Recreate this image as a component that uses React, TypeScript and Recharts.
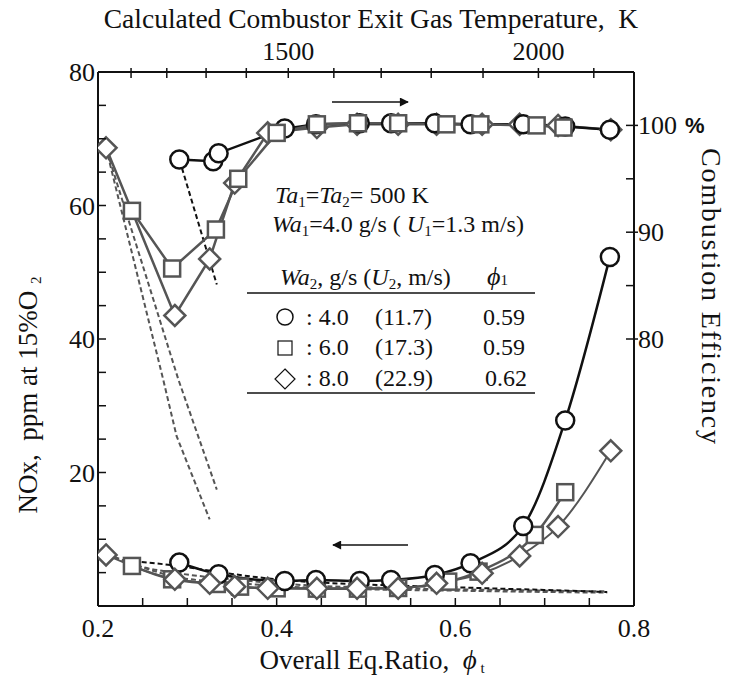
import React from 'react';
import { LineChart, Line, XAxis, YAxis } from 'recharts';

// Overall equivalence ratio vs NOx (left axis) and combustion efficiency (right axis)
const FONT = '"Liberation Serif", "Times New Roman", serif';
const INK = '#111';
const GREY = '#555';

// plot frame in page pixels (used only for tick marks / overlay text)
const L = 98;
const R = 634;
const T = 72;
const B = 606;

const phiTicks = [0.2, 0.25, 0.3, 0.35, 0.4, 0.45, 0.5, 0.55, 0.6, 0.65, 0.7, 0.75, 0.8];
const phiLabels = [0.2, 0.4, 0.6, 0.8];
const noxTicks = [0, 5, 10, 15, 20, 25, 30, 35, 40, 45, 50, 55, 60, 65, 70, 75, 80];
const noxLabels = [20, 40, 60, 80];
const effTicks = [80, 85, 90, 95, 100];
const effLabels = [80, 90, 100];
// calculated exit gas temperature ticks (K) and where they fall on the phi scale
const tempTicks = [1100, 1200, 1300, 1400, 1500, 1600, 1700, 1800, 1900, 2000, 2100];
const tempTickPhi = [0.237, 0.277, 0.321, 0.366, 0.413, 0.464, 0.517, 0.573, 0.631, 0.693, 0.755];
const tempLabels = [1500, 2000];

// combustion efficiency, %
const effCircle = [
  { x: 0.291, y: 96.8 }, { x: 0.329, y: 96.65 }, { x: 0.335, y: 97.4 }, { x: 0.409, y: 99.7 },
  { x: 0.444, y: 100.1 }, { x: 0.493, y: 100.2 }, { x: 0.528, y: 100.2 }, { x: 0.577, y: 100.2 },
  { x: 0.617, y: 100.1 }, { x: 0.676, y: 100.1 }, { x: 0.723, y: 99.9 }, { x: 0.773, y: 99.6 },
];
const effSquare = [
  { x: 0.238, y: 92.0 }, { x: 0.283, y: 86.6 }, { x: 0.332, y: 90.25 }, { x: 0.357, y: 95.0 },
  { x: 0.4, y: 99.3 }, { x: 0.445, y: 100.1 }, { x: 0.491, y: 100.2 }, { x: 0.536, y: 100.2 },
  { x: 0.59, y: 100.1 }, { x: 0.628, y: 100.1 }, { x: 0.691, y: 100.0 }, { x: 0.721, y: 99.8 },
];
const effDiamond = [
  { x: 0.209, y: 97.9 }, { x: 0.286, y: 82.2 }, { x: 0.325, y: 87.5 }, { x: 0.353, y: 94.6 },
  { x: 0.39, y: 99.3 }, { x: 0.445, y: 99.8 }, { x: 0.49, y: 100.1 }, { x: 0.536, y: 100.1 },
  { x: 0.579, y: 100.1 }, { x: 0.63, y: 100.1 }, { x: 0.672, y: 100.1 }, { x: 0.715, y: 100.0 },
  { x: 0.774, y: 99.6 },
];
// calculated efficiency (dashed)
const effCalcBlack = [{ x: 0.294, y: 96.0 }, { x: 0.333, y: 85.1 }];
const effCalcGreyA = [{ x: 0.211, y: 97.2 }, { x: 0.273, y: 76.2 }, { x: 0.288, y: 70.9 }, { x: 0.325, y: 63.1 }];
const effCalcGreyB = [{ x: 0.213, y: 96.8 }, { x: 0.29, y: 76.2 }, { x: 0.333, y: 65.9 }];

// NOx, ppm at 15% O2
const noxCircle = [
  { x: 0.291, y: 6.5 }, { x: 0.335, y: 4.75 }, { x: 0.409, y: 3.75 }, { x: 0.444, y: 3.9 },
  { x: 0.493, y: 3.75 }, { x: 0.528, y: 3.9 }, { x: 0.577, y: 4.65 }, { x: 0.617, y: 6.4 },
  { x: 0.676, y: 12.0 }, { x: 0.723, y: 27.8 }, { x: 0.773, y: 52.3 },
];
const noxSquare = [
  { x: 0.238, y: 6.0 }, { x: 0.283, y: 4.0 }, { x: 0.333, y: 3.3 }, { x: 0.359, y: 2.9 },
  { x: 0.4, y: 2.65 }, { x: 0.445, y: 2.6 }, { x: 0.491, y: 2.6 }, { x: 0.536, y: 2.7 },
  { x: 0.592, y: 3.65 }, { x: 0.626, y: 5.15 }, { x: 0.689, y: 10.65 }, { x: 0.723, y: 17.05 },
];
const noxDiamond = [
  { x: 0.209, y: 7.65 }, { x: 0.286, y: 4.0 }, { x: 0.325, y: 3.4 }, { x: 0.353, y: 2.9 },
  { x: 0.39, y: 2.65 }, { x: 0.445, y: 2.65 }, { x: 0.49, y: 2.65 }, { x: 0.536, y: 2.65 },
  { x: 0.579, y: 3.4 }, { x: 0.63, y: 4.9 }, { x: 0.672, y: 7.5 }, { x: 0.715, y: 11.9 },
  { x: 0.774, y: 23.25 },
];
// calculated NOx (dashed)
const noxCalcBlack = [
  { x: 0.24, y: 6.7 }, { x: 0.29, y: 6.0 }, { x: 0.35, y: 4.8 }, { x: 0.4, y: 4.0 }, { x: 0.45, y: 3.5 },
  { x: 0.5, y: 3.2 }, { x: 0.55, y: 3.0 }, { x: 0.6, y: 2.8 }, { x: 0.65, y: 2.6 }, { x: 0.7, y: 2.4 },
  { x: 0.77, y: 2.1 },
];
const noxCalcGreyA = [
  { x: 0.21, y: 7.8 }, { x: 0.24, y: 6.2 }, { x: 0.29, y: 4.9 }, { x: 0.35, y: 4.0 }, { x: 0.4, y: 3.4 },
  { x: 0.45, y: 3.0 }, { x: 0.5, y: 2.8 }, { x: 0.55, y: 2.6 }, { x: 0.6, y: 2.5 }, { x: 0.65, y: 2.4 },
  { x: 0.7, y: 2.3 }, { x: 0.77, y: 2.2 },
];
const noxCalcGreyB = [
  { x: 0.21, y: 7.8 }, { x: 0.29, y: 4.3 }, { x: 0.35, y: 3.5 }, { x: 0.4, y: 3.0 }, { x: 0.45, y: 2.7 },
  { x: 0.5, y: 2.5 }, { x: 0.6, y: 2.3 }, { x: 0.7, y: 2.1 }, { x: 0.77, y: 2.0 },
];

const CircleDot = (p: any) =>
  p.cx == null ? null : <circle key={p.key} cx={p.cx} cy={p.cy} r={9} fill="#fff" stroke={INK} strokeWidth={2.5} />;
const SquareDot = (p: any) =>
  p.cx == null ? null : (
    <rect key={p.key} x={p.cx - 8} y={p.cy - 8} width={16} height={16} fill="#fff" stroke={GREY} strokeWidth={2.5} />
  );
const DiamondDot = (p: any) =>
  p.cx == null ? null : (
    <path
      key={p.key}
      d={`M${p.cx},${p.cy - 10.5}L${p.cx + 10.5},${p.cy}L${p.cx},${p.cy + 10.5}L${p.cx - 10.5},${p.cy}Z`}
      fill="#fff"
      stroke={GREY}
      strokeWidth={2.5}
    />
  );

const BottomTick = (p: any) => {
  const v = p.payload.value;
  const show = phiLabels.some((l) => Math.abs(l - v) < 1e-6);
  return (
    <g>
      <line x1={p.x} x2={p.x} y1={B} y2={B - 8} stroke={INK} strokeWidth={1.5} />
      {show && (
        <text x={p.x} y={B + 31} textAnchor="middle" fontFamily={FONT} fontSize={26} fill={INK}>
          {v.toFixed(1)}
        </text>
      )}
    </g>
  );
};

const TopTick = (p: any) => {
  const i = tempTickPhi.findIndex((t) => Math.abs(t - p.payload.value) < 1e-6);
  const temp = tempTicks[i];
  return (
    <g>
      <line x1={p.x} x2={p.x} y1={T - 4} y2={T + 6} stroke={INK} strokeWidth={1.5} />
      {tempLabels.includes(temp) && (
        <text x={p.x} y={T - 12} textAnchor="middle" fontFamily={FONT} fontSize={26} fill={INK}>
          {temp}
        </text>
      )}
    </g>
  );
};

const LeftTick = (p: any) => {
  const v = p.payload.value;
  return (
    <g>
      <line x1={L} x2={L + 8} y1={p.y} y2={p.y} stroke={INK} strokeWidth={1.5} />
      {noxLabels.includes(v) && (
        <text x={L - 3} y={p.y + 9} textAnchor="end" fontFamily={FONT} fontSize={26} fill={INK}>
          {v}
        </text>
      )}
    </g>
  );
};

const RightTick = (p: any) => {
  const v = p.payload.value;
  const major = effLabels.includes(v);
  return (
    <g>
      <line x1={R - 8} x2={major ? R + 4 : R} y1={p.y} y2={p.y} stroke={INK} strokeWidth={1.5} />
      {major && (
        <text x={R + 4} y={p.y + 9} fontFamily={FONT} fontSize={26} fill={INK}>
          {v}
        </text>
      )}
      {v === 100 && (
        <text x={R + 51} y={p.y + 8} fontFamily='"Liberation Sans", Arial, sans-serif' fontWeight="bold" fontSize={22} fill={INK}>
          %
        </text>
      )}
    </g>
  );
};

const sub = (s: string) => (
  <tspan fontSize={15} dy={4}>
    {s}
  </tspan>
);

export default function App() {
  return (
    <div style={{ position: 'absolute', left: 0, top: 0, width: 733, height: 677, background: '#fff' }}>
      <LineChart width={733} height={677} margin={{ top: 0, right: 0, bottom: 0, left: 0 }}>
        <XAxis
          xAxisId="phi"
          dataKey="x"
          type="number"
          domain={[0.2, 0.8]}
          ticks={phiTicks}
          interval={0}
          height={71}
          axisLine={{ stroke: INK, strokeWidth: 2 }}
          tickLine={false}
          tick={BottomTick}
          allowDataOverflow
        />
        <XAxis
          xAxisId="temp"
          orientation="top"
          dataKey="x"
          type="number"
          domain={[0.2, 0.8]}
          ticks={tempTickPhi}
          interval={0}
          height={72}
          axisLine={{ stroke: INK, strokeWidth: 2 }}
          tickLine={false}
          tick={TopTick}
          allowDataOverflow
        />
        <YAxis
          yAxisId="nox"
          type="number"
          domain={[0, 80]}
          ticks={noxTicks}
          interval={0}
          width={98}
          axisLine={{ stroke: INK, strokeWidth: 2 }}
          tickLine={false}
          tick={LeftTick}
          allowDataOverflow
        />
        <YAxis
          yAxisId="eff"
          orientation="right"
          type="number"
          domain={[55, 105]}
          ticks={effTicks}
          interval={0}
          width={99}
          axisLine={{ stroke: INK, strokeWidth: 2 }}
          tickLine={false}
          tick={RightTick}
          allowDataOverflow
        />

        {/* calculated curves */}
        <Line xAxisId="phi" yAxisId="eff" data={effCalcGreyA} dataKey="y" stroke={GREY} strokeWidth={2} strokeDasharray="5 3" dot={false} isAnimationActive={false} />
        <Line xAxisId="phi" yAxisId="eff" data={effCalcGreyB} dataKey="y" stroke={GREY} strokeWidth={2} strokeDasharray="5 3" dot={false} isAnimationActive={false} />
        <Line xAxisId="phi" yAxisId="eff" data={effCalcBlack} dataKey="y" stroke={INK} strokeWidth={2} strokeDasharray="5 3" dot={false} isAnimationActive={false} />
        <Line xAxisId="phi" yAxisId="nox" data={noxCalcGreyA} dataKey="y" type="monotone" stroke={GREY} strokeWidth={2} strokeDasharray="5 3" dot={false} isAnimationActive={false} />
        <Line xAxisId="phi" yAxisId="nox" data={noxCalcGreyB} dataKey="y" type="monotone" stroke={GREY} strokeWidth={2} strokeDasharray="5 3" dot={false} isAnimationActive={false} />
        <Line xAxisId="phi" yAxisId="nox" data={noxCalcBlack} dataKey="y" type="monotone" stroke={INK} strokeWidth={2} strokeDasharray="5 3" dot={false} isAnimationActive={false} />

        {/* efficiency, measured */}
        <Line xAxisId="phi" yAxisId="eff" data={effDiamond} dataKey="y" stroke={GREY} strokeWidth={2.5} dot={DiamondDot} isAnimationActive={false} />
        <Line xAxisId="phi" yAxisId="eff" data={effCircle} dataKey="y" stroke={INK} strokeWidth={2.5} dot={CircleDot} isAnimationActive={false} />
        <Line xAxisId="phi" yAxisId="eff" data={effSquare} dataKey="y" stroke={GREY} strokeWidth={2.5} dot={SquareDot} isAnimationActive={false} />

        {/* NOx, measured */}
        <Line xAxisId="phi" yAxisId="nox" data={noxSquare} dataKey="y" type="monotone" stroke={GREY} strokeWidth={2.5} dot={SquareDot} isAnimationActive={false} />
        <Line xAxisId="phi" yAxisId="nox" data={noxCircle} dataKey="y" type="monotone" stroke={INK} strokeWidth={2.5} dot={CircleDot} isAnimationActive={false} />
        <Line xAxisId="phi" yAxisId="nox" data={noxDiamond} dataKey="y" type="monotone" stroke={GREY} strokeWidth={2} dot={DiamondDot} isAnimationActive={false} />
      </LineChart>

      <svg width={733} height={677} style={{ position: 'absolute', left: 0, top: 0, pointerEvents: 'none' }}>
        <defs>
          <marker id="ah" viewBox="0 0 10 10" refX="9" refY="5" markerWidth="8" markerHeight="6" orient="auto-start-reverse">
            <path d="M0,0L10,5L0,10Z" fill={INK} />
          </marker>
        </defs>
        <g fontFamily={FONT} fill={INK}>
          <text x={371} y={28} textAnchor="middle" fontSize={27.5}>
            Calculated Combustor Exit Gas Temperature,{'\u00a0\u00a0'}K
          </text>
          <text x={372} y={669} textAnchor="middle" fontSize={27}>
            Overall Eq.Ratio,{'\u00a0\u00a0'}
            <tspan fontStyle="italic">ϕ</tspan>
            {sub(' t')}
          </text>
          <text transform="translate(37,395) rotate(-90)" textAnchor="middle" fontSize={27}>
            NOx,{'\u00a0'} ppm at 15%O {sub('2')}
          </text>
          <text transform="translate(702,296) rotate(90)" textAnchor="middle" fontSize={28} textLength={296} lengthAdjust="spacing">
            Combustion Efficiency
          </text>

          {/* conditions */}
          <text x={275} y={203} fontSize={24}>
            <tspan fontStyle="italic">Ta</tspan>
            {sub('1')}
            <tspan dy={-4}>=</tspan>
            <tspan fontStyle="italic">Ta</tspan>
            {sub('2')}
            <tspan dy={-4}>= 500 K</tspan>
          </text>
          <text x={272} y={232} fontSize={24}>
            <tspan fontStyle="italic">Wa</tspan>
            {sub('1')}
            <tspan dy={-4}>=4.0 g/s ( </tspan>
            <tspan fontStyle="italic">U</tspan>
            {sub('1')}
            <tspan dy={-4}>=1.3 m/s)</tspan>
          </text>
          <text x={280} y={285} fontSize={24}>
            <tspan fontStyle="italic">Wa</tspan>
            {sub('2')}
            <tspan dy={-4}>, g/s (</tspan>
            <tspan fontStyle="italic">U</tspan>
            {sub('2')}
            <tspan dy={-4}>, m/s)</tspan>
          </text>
          <text x={487} y={285} fontSize={26} fontStyle="italic">
            ϕ<tspan fontSize={15} fontStyle="normal">1</tspan>
          </text>
          <line x1={247} x2={535} y1={293} y2={293} stroke={INK} strokeWidth={1.5} />
          <circle cx={285} cy={317} r={8} fill="none" stroke={INK} strokeWidth={1.5} />
          <rect x={278} y={341} width={14} height={14} fill="none" stroke={INK} strokeWidth={1.2} />
          <path d="M285,369L295,379L285,389L275,379Z" fill="none" stroke={INK} strokeWidth={1.2} />
          {[
            [': 4.0', '(11.7)', '0.59', 325],
            [': 6.0', '(17.3)', '0.59', 355],
            [': 8.0', '(22.9)', '0.62', 386],
          ].map(([a, b, c, y]) => (
            <g key={String(y)} fontSize={24}>
              <text x={306} y={y as number}>{a}</text>
              <text x={375} y={y as number}>{b}</text>
              <text x={c === '0.62' ? 485 : 483} y={y as number}>{c}</text>
            </g>
          ))}
          <line x1={247} x2={535} y1={393} y2={393} stroke={INK} strokeWidth={1.5} />
        </g>

        <line x1={332} x2={408} y1={102} y2={102} stroke={INK} strokeWidth={1.5} markerEnd="url(#ah)" />
        <line x1={408} x2={333} y1={545} y2={545} stroke={INK} strokeWidth={1.5} markerEnd="url(#ah)" />
      </svg>
    </div>
  );
}
